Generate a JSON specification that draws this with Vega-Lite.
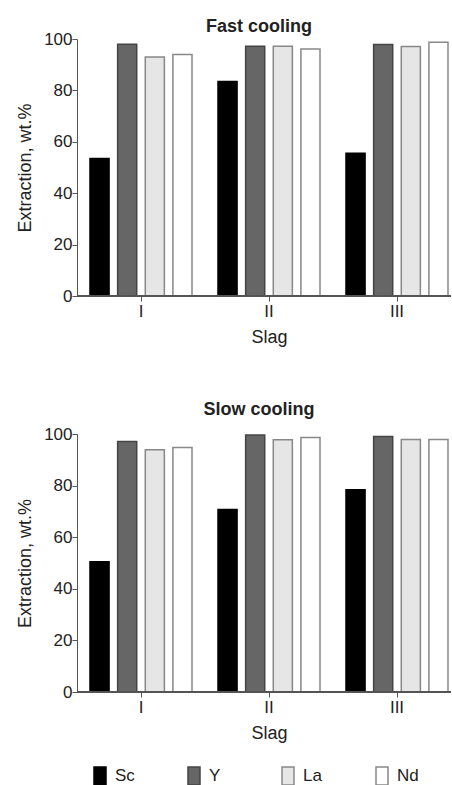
{
  "$schema": "https://vega.github.io/schema/vega-lite/v6.json",
  "padding": {"left": 16, "top": 18, "right": 0, "bottom": 0},
  "background": "white",
  "datasets": {
    "fast": [
      {"slag": "I", "element": "Sc", "extraction": 53.5},
      {"slag": "I", "element": "Y", "extraction": 98},
      {"slag": "I", "element": "La", "extraction": 93},
      {"slag": "I", "element": "Nd", "extraction": 94},
      {"slag": "II", "element": "Sc", "extraction": 83.5},
      {"slag": "II", "element": "Y", "extraction": 97.2},
      {"slag": "II", "element": "La", "extraction": 97.2},
      {"slag": "II", "element": "Nd", "extraction": 96.1},
      {"slag": "III", "element": "Sc", "extraction": 55.5},
      {"slag": "III", "element": "Y", "extraction": 97.9},
      {"slag": "III", "element": "La", "extraction": 97.1},
      {"slag": "III", "element": "Nd", "extraction": 98.7}
    ],
    "slow": [
      {"slag": "I", "element": "Sc", "extraction": 50.5},
      {"slag": "I", "element": "Y", "extraction": 97.1},
      {"slag": "I", "element": "La", "extraction": 93.9},
      {"slag": "I", "element": "Nd", "extraction": 94.8},
      {"slag": "II", "element": "Sc", "extraction": 70.7},
      {"slag": "II", "element": "Y", "extraction": 99.6},
      {"slag": "II", "element": "La", "extraction": 97.8},
      {"slag": "II", "element": "Nd", "extraction": 98.6},
      {"slag": "III", "element": "Sc", "extraction": 78.4},
      {"slag": "III", "element": "Y", "extraction": 99},
      {"slag": "III", "element": "La", "extraction": 97.9},
      {"slag": "III", "element": "Nd", "extraction": 97.9}
    ]
  },
  "config": {
    "view": {"stroke": null},
    "font": "Liberation Sans",
    "axis": {
      "labelFont": "Liberation Sans",
      "labelFontSize": 17,
      "labelColor": "#222",
      "titleFont": "Liberation Sans",
      "titleFontSize": 18,
      "titleFontWeight": "normal",
      "titleColor": "#222",
      "domainColor": "#555",
      "tickColor": "#555",
      "tickSize": 5,
      "grid": false
    },
    "title": {"font": "Liberation Sans", "fontSize": 18, "fontWeight": "bold", "color": "#222", "anchor": "middle", "dx": -5},
    "legend": {"labelFont": "Liberation Sans", "labelFontSize": 17, "labelColor": "#222"}
  },
  "spacing": 55,
  "vconcat": [
    {
      "title": {"text": "Fast cooling", "offset": -6},
      "width": 374,
      "height": 257,
      "data": {"name": "fast"},
      "layer": [
        {
          "mark": {"type": "bar", "strokeWidth": 1.5},
          "encoding": {
            "x": {"field": "slag", "type": "nominal", "sort": ["I", "II", "III"],
                  "scale": {"range": [0, 384], "paddingInner": 0, "paddingOuter": 0},
                  "axis": {"title": "Slag", "labelAngle": 0, "domain": false, "labelPadding": 2, "titlePadding": 9}},
            "xOffset": {"field": "element", "type": "nominal", "sort": ["Sc", "Y", "La", "Nd"],
                        "scale": {"paddingInner": 0.31, "paddingOuter": 0.47}},
            "y": {"field": "extraction", "type": "quantitative", "scale": {"domain": [0, 100]},
                  "axis": {"title": "Extraction, wt.%", "values": [0, 20, 40, 60, 80, 100], "titlePadding": 9, "labelPadding": 0}},
            "fill": {"field": "element", "type": "nominal", "sort": ["Sc", "Y", "La", "Nd"],
                     "scale": {"domain": ["Sc", "Y", "La", "Nd"], "range": ["#000000", "#666666", "#e6e6e6", "#ffffff"]},
                     "legend": {"title": null, "orient": "none", "legendX": 10, "legendY": 724, "direction": "horizontal", "symbolType": "M-0.5,-0.75L0.5,-0.75L0.5,0.75L-0.5,0.75Z", "symbolSize": 576, "symbolStrokeWidth": 1.5, "gridAlign": "all", "columnPadding": 44, "labelOffset": 2}},
            "stroke": {"field": "element", "type": "nominal", "sort": ["Sc", "Y", "La", "Nd"],
                       "scale": {"domain": ["Sc", "Y", "La", "Nd"], "range": ["#000000", "#444444", "#888888", "#888888"]},
                       "legend": {"title": null, "orient": "none", "legendX": 10, "legendY": 724, "direction": "horizontal", "symbolType": "M-0.5,-0.75L0.5,-0.75L0.5,0.75L-0.5,0.75Z", "symbolSize": 576, "symbolStrokeWidth": 1.5, "gridAlign": "all", "columnPadding": 44, "labelOffset": 2}}
          }
        },
        {
          "mark": {"type": "rule", "color": "#555", "strokeWidth": 1},
          "encoding": {"y": {"datum": 0}}
        }
      ]
    },
    {
      "title": {"text": "Slow cooling", "offset": 6},
      "width": 374,
      "height": 258,
      "data": {"name": "slow"},
      "layer": [
        {
          "mark": {"type": "bar", "strokeWidth": 1.5},
          "encoding": {
            "x": {"field": "slag", "type": "nominal", "sort": ["I", "II", "III"],
                  "scale": {"range": [0, 384], "paddingInner": 0, "paddingOuter": 0},
                  "axis": {"title": "Slag", "labelAngle": 0, "domain": false, "labelPadding": 2, "titlePadding": 9}},
            "xOffset": {"field": "element", "type": "nominal", "sort": ["Sc", "Y", "La", "Nd"],
                        "scale": {"paddingInner": 0.31, "paddingOuter": 0.47}},
            "y": {"field": "extraction", "type": "quantitative", "scale": {"domain": [0, 100]},
                  "axis": {"title": "Extraction, wt.%", "values": [0, 20, 40, 60, 80, 100], "titlePadding": 9, "labelPadding": 0}},
            "fill": {"field": "element", "type": "nominal", "sort": ["Sc", "Y", "La", "Nd"],
                     "scale": {"domain": ["Sc", "Y", "La", "Nd"], "range": ["#000000", "#666666", "#e6e6e6", "#ffffff"]}},
            "stroke": {"field": "element", "type": "nominal", "sort": ["Sc", "Y", "La", "Nd"],
                       "scale": {"domain": ["Sc", "Y", "La", "Nd"], "range": ["#000000", "#444444", "#888888", "#888888"]}}
          }
        },
        {
          "mark": {"type": "rule", "color": "#555", "strokeWidth": 1},
          "encoding": {"y": {"datum": 0}}
        }
      ]
    }
  ]
}
